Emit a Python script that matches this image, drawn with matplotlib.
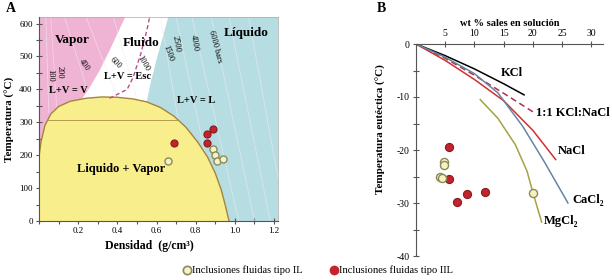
import matplotlib.pyplot as plt
import numpy as np
from matplotlib.patches import Polygon
from matplotlib.lines import Line2D
from matplotlib.ticker import MultipleLocator

plt.rcParams['font.family'] = ['Liberation Serif', 'DejaVu Serif']
plt.rcParams['axes.unicode_minus'] = False

# ---------------- panel A: T - density diagram ----------------
dome_x = [0.0, 0.01, 0.03, 0.06, 0.10, 0.16, 0.24, 0.32, 0.40, 0.48, 0.55,
          0.62, 0.69, 0.75, 0.81, 0.86, 0.90, 0.93, 0.95, 0.97]
dome_t = [195, 240, 290, 325, 348, 364, 373, 377, 376, 371, 362,
          345, 318, 285, 240, 195, 145, 95, 50, 0]
# vapor / fluid boundary (top -> dome)
pink_x = [0.44, 0.36, 0.31, 0.25, 0.22]
pink_t = [620, 518, 458, 397, 372]
# fluid / liquid boundary (dome -> top)
blue_x = [0.55, 0.57, 0.60, 0.63, 0.66]
blue_t = [362, 420, 490, 555, 620]
# critical isochore (dashed)
crit_x = [0.36, 0.45, 0.48, 0.52, 0.55, 0.565]
crit_t = [373, 400, 436, 509, 578, 620]
# isobars: (x at bottom, T at bottom, x at top, T at top)
isobars = [(0.05, 330, 0.035, 620), (0.09, 347, 0.06, 620), (0.26, 374, 0.13, 620),
           (0.40, 376, 0.24, 620), (0.50, 372, 0.38, 620),
           (0.80, 0, 0.62, 620), (0.92, 0, 0.70, 620), (1.02, 0, 0.78, 620),
           (1.10, 0, 0.88, 620), (1.18, 0, 0.97, 620), (1.26, 0, 1.07, 620)]
iso_labels = ["100", "200", "400", "600", "1000", "1500", "2500", "4000", "6000 bars"]
iso_lx = [0.056, 0.107, 0.23, 0.39, 0.53, 0.66, 0.70, 0.79, 0.90]
iso_lt = [442, 451, 473, 479, 479, 509, 539, 542, 530]
iso_rot = [-90, -90, -55, -45, -60, -70, -80, -80, -75]

il_x = [0.66, 0.89, 0.90, 0.91, 0.94]
il_t = [182, 218, 200, 182, 188]
iil_x = [0.69, 0.89, 0.86, 0.86]
iil_t = [236, 279, 264, 236]

# ---------------- panel B: eutectic temperature ----------------
kcl_w = [0, 5, 10, 15, 18.5]
kcl_t = [0, -2.2, -4.7, -7.5, -9.6]
mix_w = [0, 5, 10, 15, 20.3]
mix_t = [0, -2.7, -5.9, -9.3, -13.0]
nacl_w = [0, 5, 10, 15, 20, 23.9]
nacl_t = [0, -3.1, -6.7, -10.7, -16.3, -21.8]
cacl_w = [0, 5, 10, 14, 18.3, 22, 26]
cacl_t = [0, -2.5, -5.6, -9.2, -15.6, -22.3, -30.0]
mgcl_w = [11, 14, 17, 19, 20, 21.5]
mgcl_t = [-10.5, -14, -19, -24, -28, -33.6]

b_il_w = [4.8, 4.8, 4.1, 4.4, 20.0]
b_il_t = [-22.3, -22.9, -25.1, -25.3, -28.1]
b_iil_w = [5.6, 5.6, 7.0, 8.7, 11.8]
b_iil_t = [-19.4, -25.5, -29.8, -28.3, -27.9]

pink = '#efb3d3'
yellow = '#f8ef8c'
blue = '#b6dde2'
red_fc, red_ec = '#c3242c', '#8a1a1e'
pale_fc, pale_ec = '#f5f2c4', '#8c8a5a'
axcol = '#555555'

fig = plt.figure(figsize=(6.12, 2.8), dpi=100)

# ---- panel A ----
ax = fig.add_axes([39 / 612, 1 - 221 / 280, 239 / 612, 204 / 280])
ax.set_xlim(0, 1.22)
ax.set_ylim(0, 620)

dx = np.array(dome_x)
dt = np.array(dome_t)
left = dx < 0.22
pink_poly = [(0, 620)] + list(zip(pink_x, pink_t)) + list(zip(dx[left][::-1], dt[left][::-1]))
ax.add_patch(Polygon(pink_poly, closed=True, fc=pink, ec='none', zorder=1))
right = dx > 0.55
blue_poly = list(zip(blue_x, blue_t)) + [(1.22, 620), (1.22, 0)] + \
    list(zip(dx[right][::-1], dt[right][::-1]))
ax.add_patch(Polygon(blue_poly, closed=True, fc=blue, ec='none', zorder=1))

for x0, t0, x1, t1 in isobars:
    ax.plot([x0, x1], [t0, t1], color='#f4eaf2', lw=0.6, alpha=0.6, zorder=2)

dome = Polygon(list(zip(dome_x, dome_t)) + [(0, 0)], closed=True, fc=yellow,
               ec='none', zorder=3)
ax.add_patch(dome)
ax.plot(dome_x, dome_t, color='#a4843e', lw=1.0, zorder=4)
hl, = ax.plot([0, 1.2], [306, 306], color='#b49a50', lw=0.7, zorder=4)
hl.set_clip_path(dome)
ax.plot(crit_x, crit_t, color='#b5508a', lw=1.0, ls=(0, (3, 2)), zorder=4)

for lab, x, t, r in zip(iso_labels, iso_lx, iso_lt, iso_rot):
    ax.text(x, t, lab, fontsize=6, rotation=r, ha='center', va='center', zorder=5)

ax.text(0.17, 550, "Vapor", fontsize=9.5, fontweight='bold', ha='center', va='center', zorder=5)
ax.text(0.52, 542, "Fluido", fontsize=9.5, fontweight='bold', ha='center', va='center', zorder=5)
ax.text(1.06, 572, "Líquido", fontsize=9.5, fontweight='bold', ha='center', va='center', zorder=5)
ax.text(0.42, 158, "Liquido + Vapor", fontsize=9, fontweight='bold', ha='center', va='center', zorder=5)
ax.text(0.15, 397, "L+V = V", fontsize=7.5, fontweight='bold', ha='center', va='center', zorder=5)
ax.text(0.45, 440, "L+V = Esc", fontsize=7.5, fontweight='bold', ha='center', va='center', zorder=5)
ax.text(0.80, 367, "L+V = L", fontsize=7.5, fontweight='bold', ha='center', va='center', zorder=5)

ax.scatter(iil_x, iil_t, s=26, fc=red_fc, ec=red_ec, lw=0.8, zorder=6)
ax.scatter(il_x, il_t, s=26, fc=pale_fc, ec=pale_ec, lw=1.0, zorder=6)

ax.set_xticks([0.2, 0.4, 0.6, 0.8, 1.0, 1.2])
ax.set_xticklabels(["0.2", "0.4", "0.6", "0.8", "1.0", "1.2"])
ax.xaxis.set_minor_locator(MultipleLocator(0.1))
ax.set_yticks(range(0, 601, 100))
ax.yaxis.set_minor_locator(MultipleLocator(50))
ax.tick_params(which='both', direction='inout', length=5, width=0.8, color=axcol,
               labelsize=6.5, pad=2)
for s in ['left', 'bottom']:
    ax.spines[s].set_color(axcol)
    ax.spines[s].set_zorder(7)
for s in ['top', 'right']:
    ax.spines[s].set_color('#aaaaaa')
    ax.spines[s].set_linewidth(0.5)
ax.set_xlabel("Densidad  (g/cm³)", fontsize=8.5, fontweight='bold')
ax.xaxis.set_label_coords(0.46, -0.095)
ax.set_ylabel("Temperatura (°C)", fontsize=8, fontweight='bold')
ax.yaxis.set_label_coords(-0.1, 0.5)

# ---- panel B ----
bx = fig.add_axes([416 / 612, 1 - 256 / 280, 187 / 612, 212 / 280])
bx.set_xlim(0, 32)
bx.set_ylim(-40, 0)
bx.plot(kcl_w, kcl_t, color='black', lw=1.1)
bx.plot(mix_w, mix_t, color='#b03048', lw=1.1, ls=(0, (4, 2.5)))
bx.plot(nacl_w, nacl_t, color='#d2302e', lw=1.1)
bx.plot(cacl_w, cacl_t, color='#6585a4', lw=1.1)
bx.plot(mgcl_w, mgcl_t, color='#a5a244', lw=1.1)
bx.scatter(b_iil_w, b_iil_t, s=34, fc=red_fc, ec=red_ec, lw=0.8, zorder=5)
bx.scatter(b_il_w, b_il_t, s=34, fc=pale_fc, ec=pale_ec, lw=1.0, zorder=5)

bx.text(16.4, -5.5, "KCl", fontsize=9, fontweight='bold', ha='center', va='center')
bx.text(20.6, -13.1, "1:1 KCl:NaCl", fontsize=9, fontweight='bold', ha='left', va='center')
bx.text(24.2, -20.2, "NaCl", fontsize=9, fontweight='bold', ha='left', va='center')
bx.text(26.7, -29.4, "CaCl₂", fontsize=9, fontweight='bold', ha='left', va='center')
bx.text(21.9, -33.4, "MgCl₂", fontsize=9, fontweight='bold', ha='left', va='center')

bx.xaxis.tick_top()
bx.xaxis.set_label_position('top')
bx.set_xticks([5, 10, 15, 20, 25, 30])
bx.set_yticks([0, -10, -20, -30, -40])
bx.yaxis.set_minor_locator(MultipleLocator(5))
bx.tick_params(which='both', direction='inout', length=5, width=0.8, color=axcol,
               labelsize=7, pad=2)
for s in ['bottom', 'right']:
    bx.spines[s].set_visible(False)
for s in ['top', 'left']:
    bx.spines[s].set_color(axcol)
bx.set_xlabel("wt % sales en solución", fontsize=7.5, fontweight='bold')
bx.xaxis.set_label_coords(0.5, 1.085)
bx.set_ylabel("Temperatura eutéctica (°C)", fontsize=8, fontweight='bold')
bx.yaxis.set_label_coords(-0.16, 0.6)
bx.patch.set_alpha(0)

# panel letters
fig.text(6 / 612, 1 - 8 / 280, "A", fontsize=10, fontweight='bold', ha='left', va='center')
fig.text(377 / 612, 1 - 8 / 280, "B", fontsize=10, fontweight='bold', ha='left', va='center')

# legend
ly = 1 - 270 / 280
fig.add_artist(Line2D([187 / 612], [ly], marker='o', ms=6, mfc=pale_fc, mec=pale_ec,
                      mew=1.2, transform=fig.transFigure))
fig.text(192 / 612, ly, "Inclusiones fluidas tipo IL", fontsize=7.6, ha='left', va='center')
fig.add_artist(Line2D([334 / 612], [ly], marker='o', ms=6, mfc=red_fc, mec=red_fc,
                      transform=fig.transFigure))
fig.text(339 / 612, ly, "Inclusiones fluidas tipo IIL", fontsize=7.6, ha='left', va='center')

fig.savefig("out.png", dpi=100)
